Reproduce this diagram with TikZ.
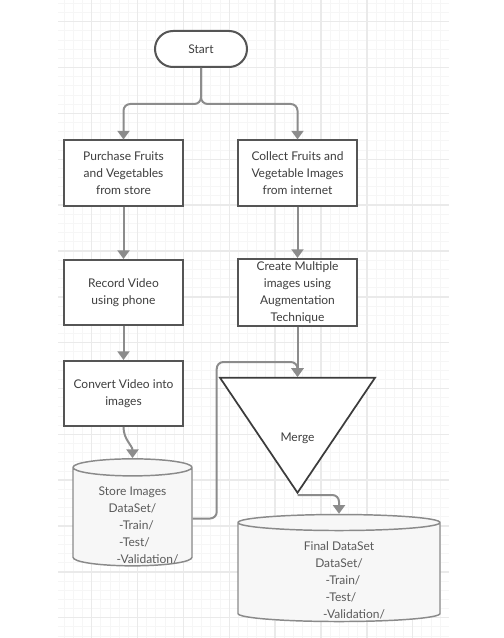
\documentclass[tikz,border=0pt]{standalone}
\usepackage{fontspec}
\setmainfont{Lato}
\usepackage{tikz}
\usetikzlibrary{shapes.geometric,shapes.misc,arrows.meta,calc}

\definecolor{boxline}{HTML}{555555}
\definecolor{triline}{HTML}{3C3C3C}
\definecolor{connline}{HTML}{8C8C8C}
\definecolor{dbline}{HTML}{8A8A8A}
\definecolor{dbfill}{HTML}{F7F7F7}
\definecolor{txtgray}{HTML}{3E3E3E}
\definecolor{dbtxt}{HTML}{5A5A5A}
\definecolor{gridminor}{HTML}{F6F6F6}
\definecolor{gridmajor}{HTML}{EAEAEA}

\begin{document}
\begin{tikzpicture}[
  x=0.75pt, y=-0.75pt,
  every node/.style={font=\fontsize{9pt}{12.7pt}\selectfont, text=txtgray},
  term/.style ={draw=boxline, line width=1.5pt, rounded corners=13.5pt,
                minimum width=69pt, minimum height=27pt, fill=white},
  proc/.style ={draw=boxline, line width=1.5pt, fill=white, align=center,
                minimum width=89.25pt, minimum height=48.75pt, inner sep=2pt},
  db/.style   ={draw=dbline, line width=1.1pt, fill=dbfill, cylinder,
                shape border rotate=90, inner sep=3pt, minimum height=80.25pt},
  dbtext/.style={align=center, text=dbtxt},
  merge/.style={draw=triline, line width=1.3pt, fill=white,
                isosceles triangle, isosceles triangle stretches,
                shape border rotate=-90, inner sep=0pt,
                minimum width=116.25pt, minimum height=86.25pt},
  conn/.style ={draw=connline, line width=1.5pt, rounded corners=5pt,
                -{Triangle[width=9pt,length=6.5pt]}},
  minor/.style={gridminor, line width=0.7pt},
  major/.style={gridmajor, line width=1.1pt}
]
\useasboundingbox (0,0) rectangle (503,638);

%% ---- Grid paper ---------------------------------------------------
\foreach \k in {-3,...,38}
  \draw[minor] ({91.7+9.17*\k},0) -- ({91.7+9.17*\k},638);
\foreach \k in {-2,...,67}
  \draw[minor] (58,{21.7+9.17*\k}) -- (449,{21.7+9.17*\k});
\foreach \k in {0,...,7}
  \draw[major] ({91.7+45.85*\k},0) -- ({91.7+45.85*\k},638);
\foreach \k in {0,...,13}
  \draw[major] (58,{21.7+45.85*\k}) -- (449,{21.7+45.85*\k});

%% ---- Start --------------------------------------------------------
\node[term] (START) at (201,49) {Start};
\coordinate (SPLIT) at (201,104);

%% ---- Left branch: own photos ---------------------------------------
\node[proc] (BUY)     at (123.5,173)   {Purchase Fruits\\and Vegetables\\from store};
\node[proc] (RECORD)  at (123.5,292.5) {Record Video\\using phone};
\node[proc] (CONVERT) at (123.5,393.5) {Convert Video into\\images};

%% ---- Right branch: web images --------------------------------------
\node[proc] (COLLECT) at (297.5,173)   {Collect Fruits and\\Vegetable Images\\from internet};
\node[proc] (AUGMENT) at (297.5,292.5) {Create Multiple\\images using\\Augmentation\\Technique};

%% ---- Stores and merge ----------------------------------------------
\node[db, minimum width=89.25pt, aspect=2.13] (STORE) at (132.5,518.5) {};
\node[dbtext] (STORET) at ([yshift=-5.25pt]STORE.center)
      {Store Images\\DataSet/\\\hspace*{6pt}-Train/\\\hspace*{3pt}-Test/\\\hspace*{22.5pt}-Validation/};

\node[merge, anchor=apex] (MERGE) at (297.5,495) {};
\node (MERGET) at (297.5,438) {Merge};
\coordinate (JOIN) at (297.5,362);

\node[db, minimum width=151.5pt, aspect=2.0] (FINAL) at (339,573.5) {};
\node[dbtext] (FINALT) at ([yshift=-5.25pt]FINAL.center)
      {Final DataSet\\DataSet/\\\hspace*{6pt}-Train/\\\hspace*{3pt}-Test/\\\hspace*{22.5pt}-Validation/};

%% ---- Connections ---------------------------------------------------
\draw[conn] (START.south) -- (SPLIT) -| (BUY.north);
\draw[conn] (START.south) -- (SPLIT) -| (COLLECT.north);
\draw[conn] (BUY.south) -- (RECORD.north);
\draw[conn] (RECORD.south) -- (CONVERT.north);
\draw[conn] (CONVERT.south) to[out=-90,in=90] (STORE.north);
\draw[conn] (COLLECT.south) -- (AUGMENT.north);
\draw[conn] (AUGMENT.south) -- (MERGE.lower side);
\draw[conn] (STORE.east) -- ++(24,0) |- (JOIN) -- (MERGE.lower side);
\draw[conn] (MERGE.apex) -| (FINAL.north);

\end{tikzpicture}
\end{document}
